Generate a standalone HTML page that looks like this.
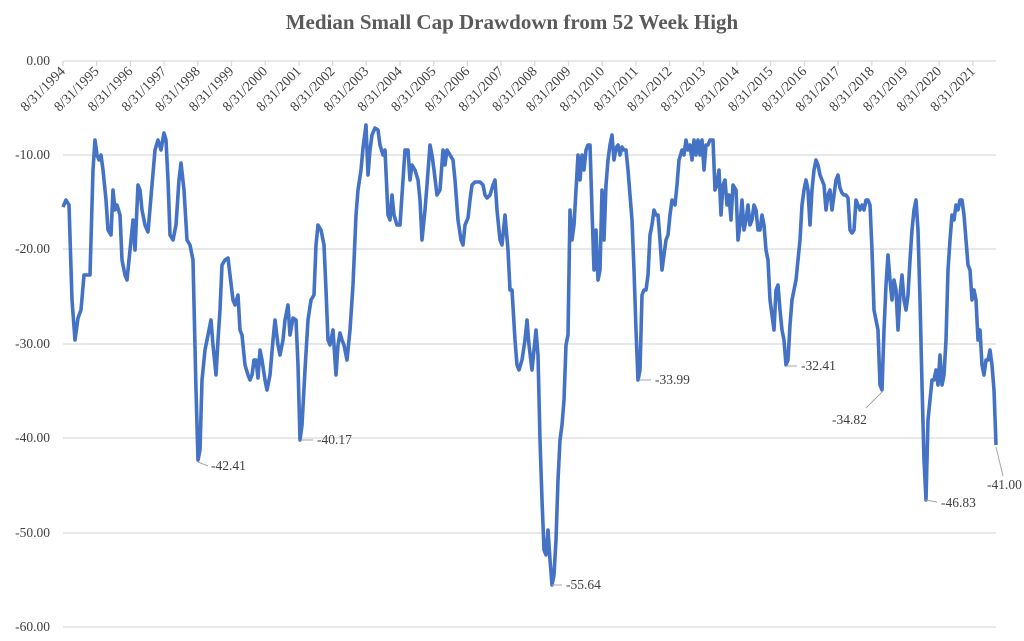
<!DOCTYPE html>
<html><head><style>
html,body{margin:0;padding:0;background:#fff;}
svg text{font-family:"Liberation Serif",serif;fill:#404040;}
</style></head><body>
<svg width="1024" height="636" viewBox="0 0 1024 636" xmlns="http://www.w3.org/2000/svg">
<text x="512" y="29" text-anchor="middle" font-size="21" font-weight="bold" style="fill:#5a5a5a">Median Small Cap Drawdown from 52 Week High</text>
<g stroke="#d9d9d9" stroke-width="1.3">
<line x1="63" y1="61" x2="996" y2="61"/>
<line x1="63" y1="155" x2="996" y2="155"/>
<line x1="63" y1="249" x2="996" y2="249"/>
<line x1="63" y1="344" x2="996" y2="344"/>
<line x1="63" y1="438" x2="996" y2="438"/>
<line x1="63" y1="533" x2="996" y2="533"/>
<line x1="63" y1="627" x2="996" y2="627"/>
</g>
<g font-size="13.5" text-anchor="end">
<text x="50" y="65">0.00</text>
<text x="50" y="159">-10.00</text>
<text x="50" y="253">-20.00</text>
<text x="50" y="348">-30.00</text>
<text x="50" y="442">-40.00</text>
<text x="50" y="537">-50.00</text>
<text x="50" y="631">-60.00</text>
</g>
<g id="ticks" stroke="#d9d9d9" stroke-width="1.3"></g>
<g id="xl" font-size="14" text-anchor="end"></g>
<polyline id="ln" fill="none" stroke="#4472c4" stroke-width="3.6" stroke-linejoin="round" points=""/>
<g stroke="#a6a6a6" stroke-width="1">
<line x1="198" y1="462" x2="208" y2="466"/>
<line x1="301" y1="440" x2="313" y2="440"/>
<line x1="552" y1="585" x2="562" y2="585"/>
<line x1="639" y1="380" x2="651" y2="380"/>
<line x1="786" y1="366" x2="797" y2="366"/>
<line x1="882" y1="392" x2="866" y2="408"/>
<line x1="926" y1="500" x2="937" y2="502"/>
<line x1="996" y1="447" x2="1003" y2="476"/>
</g>
<g font-size="13.5">
<text x="211" y="470">-42.41</text>
<text x="317" y="444">-40.17</text>
<text x="566" y="589">-55.64</text>
<text x="655" y="384">-33.99</text>
<text x="801" y="370">-32.41</text>
<text x="832" y="424">-34.82</text>
<text x="941" y="507">-46.83</text>
<text x="987" y="489">-41.00</text>
</g>
</svg>
<script>
var t=document.getElementById('ticks'),xl=document.getElementById('xl'),ns="http://www.w3.org/2000/svg";
for(var i=0;i<28;i++){var x=63+i*33.7;
var l=document.createElementNS(ns,'line');l.setAttribute('x1',x);l.setAttribute('x2',x);l.setAttribute('y1',61);l.setAttribute('y2',66);t.appendChild(l);
var tx=document.createElementNS(ns,'text');tx.setAttribute('transform','translate('+(x+3)+',72) rotate(-45)');tx.textContent='8/31/'+(1994+i);xl.appendChild(tx);}
var p="63,207 66,200 69,205 72,300 75,340 78,318 81,310 84,275 87,275 90,275 93,170 95,140 97,155 99,160 101,155 103,170 106,200 108,230 111,235 113,190 115,210 117,205 120,215 122,260 125,275 127,280 130,250 133,220 135,250 138,185 140,190 142,210 145,225 148,232 152,185 155,150 158,140 161,150 164,133 166,140 168,180 170,235 173,240 176,225 179,180 181,163 184,190 187,240 190,245 193,260 196,390 198,460 200,450 202,380 205,350 208,335 211,320 213,345 216,375 218,340 220,310 222,265 225,260 228,258 230,275 233,300 235,305 238,295 240,330 242,335 245,365 248,375 250,380 252,375 254,360 256,360 258,378 260,350 262,360 265,380 267,390 270,375 273,340 275,320 278,345 280,355 283,340 285,320 288,305 290,335 293,318 296,320 298,365 300,440 302,425 305,370 308,320 311,300 314,295 316,245 318,225 321,230 324,245 326,290 328,340 330,345 333,330 336,375 338,345 340,333 342,340 344,345 347,360 350,330 353,285 356,215 358,190 361,170 363,148 366,125 368,175 370,150 372,135 375,128 378,130 380,145 383,155 385,150 388,215 390,220 392,195 394,215 397,225 400,225 403,180 405,150 408,150 410,180 412,165 415,170 418,180 420,200 422,240 425,210 427,185 430,145 432,155 434,170 437,195 440,190 443,150 445,165 447,150 450,155 453,160 455,180 458,220 461,240 463,245 465,225 468,218 470,200 472,185 475,182 478,182 480,182 483,185 485,195 487,198 490,195 493,185 495,180 497,210 500,240 502,245 505,215 508,250 510,290 512,290 515,340 517,365 519,370 522,360 525,340 527,320 529,345 532,370 534,350 536,330 538,355 540,440 542,500 544,550 546,555 548,530 550,560 552,585 554,575 556,540 558,480 560,440 562,425 564,400 566,345 568,335 570,210 572,240 574,225 576,190 578,155 580,180 582,155 584,170 586,150 588,145 590,145 592,210 594,270 596,230 598,280 600,270 602,190 604,240 606,185 608,160 610,145 612,135 614,160 616,148 618,145 620,155 622,147 624,150 626,150 628,170 630,195 632,220 634,270 636,330 638,380 640,370 642,295 644,290 646,290 648,275 650,235 652,225 654,210 656,215 658,215 660,240 662,270 664,255 666,240 668,235 670,215 672,200 675,205 677,185 679,160 682,150 684,155 686,140 688,150 690,145 692,160 694,140 696,155 698,140 700,155 702,140 704,170 706,145 708,145 710,140 713,140 715,190 717,185 719,170 721,215 723,185 725,180 727,205 729,195 731,220 733,185 736,190 738,240 740,225 742,200 744,230 746,220 748,205 750,225 752,220 754,205 756,210 758,230 760,230 762,215 764,225 766,250 768,260 770,300 772,315 774,330 776,290 778,285 780,310 782,330 784,340 786,365 788,360 790,325 792,300 794,290 796,280 798,260 800,240 802,205 804,190 806,180 808,190 810,225 812,190 814,170 816,160 818,165 820,175 822,180 824,185 826,210 828,195 830,190 832,210 834,195 836,180 838,175 840,188 842,193 844,195 846,195 848,198 850,230 852,233 854,230 856,200 858,205 860,210 862,205 864,210 866,200 868,200 870,205 872,250 874,310 876,320 878,330 880,385 882,390 884,330 886,285 888,255 890,280 892,300 894,280 896,290 898,330 900,295 902,275 904,300 906,310 908,295 910,260 912,230 914,210 916,200 918,230 920,300 922,385 924,460 926,500 928,420 930,400 932,380 934,380 936,370 938,385 940,355 942,385 944,375 946,340 948,270 950,240 952,215 954,220 956,205 958,210 960,200 962,200 964,215 966,240 968,265 970,270 972,300 974,290 976,300 978,340 980,330 982,365 984,375 986,360 988,360 990,350 992,365 994,390 996,445";
document.getElementById('ln').setAttribute('points',p);
</script>
</body></html>
